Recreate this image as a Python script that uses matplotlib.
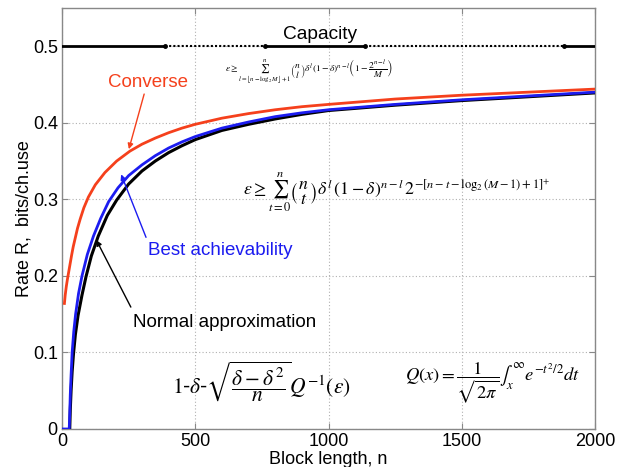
import matplotlib
matplotlib.use("Agg")
import matplotlib.pyplot as plt

plt.rcParams['mathtext.fontset'] = 'stix'
plt.rcParams['font.family'] = ['Liberation Sans', 'DejaVu Sans']

# ---- data ----
conv_n = [9, 12, 16, 20, 24, 30, 36, 42, 50, 58, 68, 82, 99, 125, 161, 205, 255, 300, 350, 400, 450, 500,
          600, 700, 800, 900, 1000, 1250, 1500, 1750, 2000]
conv_r = [0.164, 0.175, 0.186, 0.195, 0.203, 0.215, 0.227, 0.238, 0.250, 0.262, 0.274, 0.289, 0.303, 0.319,
          0.335, 0.350, 0.363, 0.372, 0.380, 0.387, 0.393, 0.398, 0.406, 0.412, 0.417, 0.421, 0.424,
          0.431, 0.436, 0.440, 0.444]

best_n = [5, 27, 29, 31, 34, 38, 44, 51, 62, 75, 95, 118, 145, 175, 210, 250, 300, 350, 400, 450, 500,
          600, 700, 800, 900, 1000, 1250, 1500, 1750, 2000]
best_r = [0.0, 0.0, 0.02, 0.045, 0.07, 0.10, 0.127, 0.15, 0.177, 0.20, 0.228, 0.252, 0.275, 0.297, 0.315,
          0.331, 0.345, 0.357, 0.367, 0.375, 0.382, 0.393, 0.401, 0.408, 0.413, 0.417, 0.424, 0.430, 0.435, 0.440]

norm_n = [29, 31, 34, 38, 43, 50, 60, 75, 90, 110, 136, 170, 205, 250, 300, 350, 400, 450, 500,
          600, 700, 800, 900, 1000, 1250, 1500, 1750, 2000]
norm_r = [0.0, 0.025, 0.05, 0.075, 0.098, 0.123, 0.148, 0.175, 0.199, 0.226, 0.252, 0.279, 0.299, 0.320,
          0.337, 0.350, 0.361, 0.370, 0.378, 0.390, 0.398, 0.405, 0.411, 0.416, 0.423, 0.429, 0.434, 0.439]

capacity = 0.5
cap_breaks = [0, 385, 760, 1135, 1885, 2000]   # solid / dotted pieces of the capacity line

x_ticks = [0, 500, 1000, 1500, 2000]
y_ticks = [0, 0.1, 0.2, 0.3, 0.4, 0.5]
y_ticklabels = ['0', '0.1', '0.2', '0.3', '0.4', '0.5']

fig = plt.figure(figsize=(6.29, 4.67), dpi=100)
ax = fig.add_axes([0.0986, 0.0814, 0.8474, 0.9016])
ax.set_xlim(0, 2000)
ax.set_ylim(0, 0.55)

ax.grid(True, linestyle=(0, (1, 2)), color='#b0b0b0', linewidth=0.8)
ax.set_axisbelow(True)

red = '#f5401c'
blue = '#1c1cf0'

ax.plot(norm_n, norm_r, color='black', lw=2.2, zorder=3)
ax.plot(best_n, best_r, color=blue, lw=2.0, zorder=4)
ax.plot(conv_n, conv_r, color=red, lw=2.0, zorder=5)

for i in range(len(cap_breaks) - 1):
    ls = '-' if i % 2 == 0 else (0, (1, 1))
    ax.plot([cap_breaks[i], cap_breaks[i + 1]], [capacity, capacity], color='black',
            lw=2.0 if i % 2 == 0 else 1.5, linestyle=ls, zorder=3)
ax.plot(cap_breaks[1:-1], [capacity] * (len(cap_breaks) - 2), 'o', color='black', ms=2.5, zorder=3)

ax.set_xticks(x_ticks)
ax.set_yticks(y_ticks)
ax.set_yticklabels(y_ticklabels)
ax.tick_params(direction='in', labelsize=13, length=4, top=True, right=True, pad=3,
               colors='#888888', labelcolor='black')
for s in ax.spines.values():
    s.set_color('#888888')
    s.set_linewidth(1.0)

ax.set_xlabel('Block length, n', fontsize=13, labelpad=0.5)
ax.set_ylabel('Rate R,  bits/ch.use', fontsize=13, labelpad=0)

# texts
ax.text(968, 0.515, 'Capacity', fontsize=13.8, ha='center', va='center')
ax.text(323, 0.452, 'Converse', fontsize=13.5, color=red, ha='center', va='center')
ax.annotate('', xy=(248, 0.362), xytext=(311, 0.441),
            arrowprops=dict(arrowstyle='-|>', color=red, lw=1.0, mutation_scale=8))
ax.text(323, 0.233, 'Best achievability', fontsize=13.5, color=blue, ha='left', va='center')
ax.annotate('', xy=(218, 0.336), xytext=(319, 0.247),
            arrowprops=dict(arrowstyle='-|>', color=blue, lw=1.0, mutation_scale=8))
ax.text(266, 0.139, 'Normal approximation', fontsize=13.5, color='black', ha='left', va='center')
ax.annotate('', xy=(124, 0.25), xytext=(263, 0.156),
            arrowprops=dict(arrowstyle='-|>', color='black', lw=1.0, mutation_scale=8))

ax.text(612, 0.467,
        r'$\varepsilon \geq \sum_{l=\lfloor n-\log_2 M\rfloor+1}^{n}\left(\genfrac{}{}{0}{0}{n}{l}\right)\delta^l(1-\delta)^{n-l}\left(1-\dfrac{2^{n-l}}{M}\right)$',
        fontsize=6.8, ha='left', va='center')
ax.text(679, 0.31,
        r'$\varepsilon \geq \sum_{t=0}^{n}\left(\genfrac{}{}{0}{0}{n}{t}\right)\delta^l\,\left(1-\delta\right)^{n-l}\,2^{-\left[n-t-\log_2(M-1)+1\right]^{+}}$',
        fontsize=12.8, ha='left', va='center')
ax.text(413, 0.062,
        r'$1$-$\delta$-$\sqrt{\dfrac{\delta-\delta^2}{n}}Q^{-1}\left(\varepsilon\right)$',
        fontsize=15.5, ha='left', va='center')
ax.text(1287, 0.06,
        r'$Q\left(x\right)=\dfrac{1}{\sqrt{2\pi}}\int_x^{\infty}e^{-t^2/2}dt$',
        fontsize=13.3, ha='left', va='center')

fig.savefig('out.png', dpi=100)
